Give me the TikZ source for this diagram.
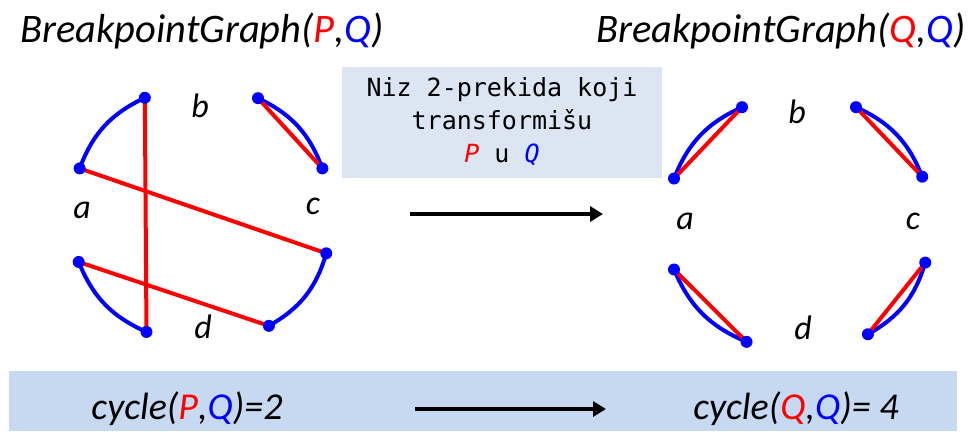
\documentclass[tikz,border=0pt]{standalone}
\usepackage{fontspec}
\setmainfont{Carlito}
\setmonofont{DejaVu Sans Mono}
\usetikzlibrary{arrows.meta}
\definecolor{pred}{RGB}{255,0,0}
\definecolor{qblue}{RGB}{0,0,255}
\definecolor{boxfill}{RGB}{220,230,242}
\definecolor{barfill}{RGB}{198,217,240}
\begin{document}
\begin{tikzpicture}[x=1pt,y=-1pt,
  dot/.style={circle,fill=qblue,inner sep=0pt,minimum size=12pt},
  pedge/.style={draw=pred,line width=4pt},
  qedge/.style={draw=qblue,line width=4pt},
  lbl/.style={font=\fontsize{34}{40}\selectfont\itshape,inner sep=0pt},
  title/.style={font=\fontsize{40.5}{46}\selectfont\itshape,inner sep=0pt,anchor=base west},
  bigarrow/.style={line width=3.5pt,-{Triangle[length=13pt,width=15pt]}}]
\useasboundingbox (0,0) rectangle (968,431);
% titles
\node[title] (t1) at (20,42) {BreakpointGraph(\textcolor{pred}{P},\textcolor{qblue}{Q})};
\node[title] (t2) at (596,42) {BreakpointGraph(\textcolor{pred}{Q},\textcolor{qblue}{Q})};
% center box
\node[fill=boxfill,minimum width=320pt,minimum height=111pt,inner sep=0pt] (box) at (502,122.5) {};
\node[font=\fontsize{25}{33}\selectfont\ttfamily,align=center,inner sep=0pt] (boxtxt) at (502,122) {Niz 2-prekida koji\\transformišu\\\textcolor{pred}{\itshape P} u \textcolor{qblue}{\itshape Q}};
% middle arrow
\coordinate (m1) at (410,214);
\coordinate (m2) at (603,214);
\draw[bigarrow] (m1) -- (m2);
% left graph
\begin{scope}[shift={(201,215)}]
\coordinate (L1) at (-115.6:130);
\coordinate (L2) at (-159:130);
\coordinate (L3) at (-64:130);
\coordinate (L4) at (-21:130);
\coordinate (L5) at (17:131);
\coordinate (L6) at (58.5:130);
\coordinate (L7) at (-201:131);
\coordinate (L8) at (-245:129);
\end{scope}
\draw[qedge] (L2) to[bend left=22] (L1);
\draw[qedge] (L3) to[bend left=22] (L4);
\draw[qedge] (L5) to[bend left=22] (L6);
\draw[qedge] (L8) to[bend left=22] (L7);
\draw[pedge] (L1) -- (L8);
\draw[pedge] (L2) -- (L5);
\draw[pedge] (L7) -- (L6);
\draw[pedge] (L3) -- (L4);
\foreach \p in {L1,L2,L3,L4,L5,L6,L7,L8} \node[dot] at (\p) {};
\node[lbl] (la) at (82,210) {a};
\node[lbl] (lb) at (200,106) {b};
\node[lbl] (lc) at (313,206) {c};
\node[lbl] (ld) at (203,327) {d};
% right graph
\begin{scope}[shift={(799,224)}]
\coordinate (R1) at (-116:130);
\coordinate (R2) at (-160:133);
\coordinate (R3) at (-64:130);
\coordinate (R4) at (-21:132);
\coordinate (R5) at (17:132);
\coordinate (R6) at (58:130);
\coordinate (R7) at (-200:133);
\coordinate (R8) at (-246:129);
\end{scope}
\draw[qedge] (R2) to[bend left=22] (R1);
\draw[qedge] (R3) to[bend left=22] (R4);
\draw[qedge] (R5) to[bend left=22] (R6);
\draw[qedge] (R8) to[bend left=22] (R7);
\draw[pedge] (R2) -- (R1);
\draw[pedge] (R3) -- (R4);
\draw[pedge] (R5) -- (R6);
\draw[pedge] (R8) -- (R7);
\foreach \p in {R1,R2,R3,R4,R5,R6,R7,R8} \node[dot] at (\p) {};
\node[lbl] (ra) at (685,221) {a};
\node[lbl] (rb) at (797,112) {b};
\node[lbl] (rc) at (913,221) {c};
\node[lbl] (rd) at (803,328) {d};
% bottom bar
\node[fill=barfill,minimum width=948pt,minimum height=60pt,inner sep=0pt] (bar) at (483,401) {};
\node[font=\fontsize{38}{44}\selectfont\itshape,inner sep=0pt] (cy1) at (187,409) {cycle(\textcolor{pred}{P},\textcolor{qblue}{Q})=2};
\node[font=\fontsize{38}{44}\selectfont\itshape,inner sep=0pt] (cy2) at (796,409) {cycle(\textcolor{pred}{Q},\textcolor{qblue}{Q})= 4};
\coordinate (b1) at (415,409);
\coordinate (b2) at (606,409);
\draw[bigarrow] (b1) -- (b2);
\end{tikzpicture}
\end{document}
